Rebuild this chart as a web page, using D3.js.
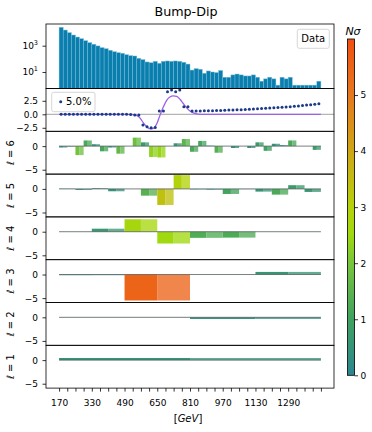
<!DOCTYPE html>
<html><head><meta charset="utf-8">
<script src="https://cdn.jsdelivr.net/npm/d3@7"></script>
<style>body{margin:0;background:#fff}svg{display:block}</style>
</head><body>
<svg id="chart" width="372" height="432"></svg>
<script>
// ---------------- data ----------------
const binStart = 170, binWidth = 20;
const counts = [25100,15500,9800,6500,4550,3400,2400,1700,1290,960,710,590,450,350,295,265,
  208,175,165,110,87,58,51,65,46,65,69,65,69,65,55,40,
  14,18,16,8,12,10,9,13,4,4,6,7,6,5,5,6,
  4,2,3,4,3,1,4,3,4,1,1,1,1,1,1,2];
const ratioPct = [0,0,0,0,0,0,0,0,0,0,0,0,0,0,0,0,
  0,-0.05,-0.15,-0.15,-2.0,-2.3,-2.5,-2.45,0.6,0.6,4.2,4.5,4.2,4.5,1.4,1.4,
  0.60,0.60,0.62,0.64,0.66,0.68,0.70,0.72,0.75,0.78,0.80,0.83,0.86,0.90,0.94,0.98,
  1.02,1.06,1.10,1.15,1.20,1.25,1.30,1.36,1.42,1.48,1.55,1.62,1.70,1.78,1.86,1.95];
const fitGeV = [170,500,533,549,566,582,598,615,631,647,663,680,696,712,728,745,761,777,794,810,826,843,859,1450];
const fitVal = [0,0,-0.06,-0.2,-0.7,-1.6,-2.3,-2.7,-2.6,-1.8,-0.2,1.4,2.6,3.2,3.4,3.3,2.8,2.0,1.2,0.6,0.25,0.06,0,0];
const level6 = [-0.3,-0.1,-1.9,1.2,0.4,-1.1,-0.3,-1.6,0.0,1.8,0.8,-2.3,-2.4,0.0,0.6,1.5,
  -1.2,1.1,0.1,-1.4,0.0,-0.4,0.0,-0.4,0.8,-1.0,0.5,0.2,1.2,0.0,0.0,-0.8];
const level5 = [0.05,-0.2,0.15,-0.5,0.0,-1.43,-3.4,2.93,-0.1,-0.15,-1.07,-0.05,-0.57,-1.21,0.79,-0.64];
const level4 = [0.0,0.64,2.64,-2.5,-1.3,-1.25,0.0,0.0];
const level3 = [-0.15,-5.5,0.0,0.55];
const level2 = [0.02,-0.35];
const level1 = [0.45];
const levelNames = ["6","5","4","3","2","1"];
const xTickLabels = ["170","330","490","650","810","970","1130","1290"];
const rTicks = [2.5, 0, -2.5];
const lTicks = [0, -5];
const logTicks = [3, 1];
const cbarTicks = [0,1,2,3,4,5];
const cmapStops = [0,1,2,2.5,3,4,5,6];
const cmapColors = ["#2b8690","#3fa25f","#78c53c","#a0d90f","#b5d20c","#cfa616","#e6781e","#f24f12"];

// ---------------- layout ----------------
const FONT = "DejaVu Sans, sans-serif";
const svg = d3.select("#chart").attr("font-family", FONT);
const L = 46, R = 334;
const topY0 = 24, topY1 = 88.5, rowH = 42.8;
const rowTop = k => topY1 + k * rowH;
const nBins = counts.length;
const dataEnd = binStart + nBins * binWidth;
const x = d3.scaleLinear().domain([106, 1514]).range([L, R]);
const cmap = d3.scaleLinear().domain(cmapStops).range(cmapColors).clamp(true);
const defs = svg.append("defs");
function clip(id, y0, y1) {
  defs.append("clipPath").attr("id", id).append("rect")
    .attr("x", L).attr("y", y0).attr("width", R - L).attr("height", y1 - y0);
  return `url(#${id})`;
}
function frame(y0, y1) {
  svg.append("rect").attr("x", L).attr("y", y0).attr("width", R - L).attr("height", y1 - y0)
    .attr("fill", "none").attr("stroke", "#000").attr("stroke-width", 0.8);
}
function yAxis(scale, vals, fmt) {
  const g = svg.append("g").attr("transform", `translate(${L},0)`)
    .call(d3.axisLeft(scale).tickValues(vals).tickFormat(fmt).tickSize(3.5).tickPadding(4.5));
  g.attr("font-family", FONT).attr("font-size", 9);
  g.select(".domain").remove();
  g.selectAll("line").attr("stroke", "#000").attr("stroke-width", 0.8);
  g.selectAll("text").attr("fill", "#000");
  return g;
}
const minus = v => String(v).replace("-", "\u2212");

// title
svg.append("text").attr("x", 186).attr("y", 15.5).attr("text-anchor", "middle")
  .attr("font-size", 12.7).text("Bump-Dip");

// ---------------- top histogram ----------------
const yLog = d3.scaleLog().domain([Math.pow(10, -0.255), Math.pow(10, 4.65)]).range([topY1, topY0]);
const gH = svg.append("g").attr("clip-path", clip("cTop", topY0, topY1));
gH.selectAll("rect").data(counts).join("rect")
  .attr("x", (d, i) => x(binStart + i * binWidth))
  .attr("width", (d, i) => x(binStart + (i + 1) * binWidth) - x(binStart + i * binWidth))
  .attr("y", d => yLog(d))
  .attr("height", d => topY1 - yLog(d))
  .attr("fill", "#0a7fae")
  .attr("stroke", "#7dbcdc").attr("stroke-width", 0.45);
frame(topY0, topY1);
const gTopAx = yAxis(yLog, logTicks.map(e => Math.pow(10, e)), () => "");
gTopAx.selectAll(".tick text").each(function (d) {
  const t = d3.select(this);
  t.append("tspan").text("10");
  t.append("tspan").attr("dy", -4).attr("font-size", 6.5).text(Math.round(Math.log10(d)));
});
// Data legend
svg.append("rect").attr("x", 297.3).attr("y", 29.3).attr("width", 32).attr("height", 19).attr("rx", 2)
  .attr("fill", "#fff").attr("stroke", "#ccc").attr("stroke-width", 0.8);
svg.append("text").attr("x", 313.3).attr("y", 42.3).attr("text-anchor", "middle").attr("font-size", 10).text("Data");

// ---------------- ratio panel ----------------
const r0 = rowTop(0), r1 = rowTop(1);
const yR = d3.scaleLinear().domain([-3.15, 4.78]).range([r1, r0]);
svg.append("line").attr("x1", L).attr("x2", R).attr("y1", yR(0)).attr("y2", yR(0))
  .attr("stroke", "#8a8a8a").attr("stroke-width", 0.8);
const gR = svg.append("g").attr("clip-path", clip("cR", r0, r1));
gR.append("path").datum(fitGeV.map((g, i) => [g, fitVal[i]]))
  .attr("d", d3.line().x(d => x(d[0])).y(d => yR(d[1])).curve(d3.curveMonotoneX))
  .attr("fill", "none").attr("stroke", "#9d60e6").attr("stroke-width", 1.3);
svg.append("g").selectAll("circle").data(ratioPct).join("circle")
  .attr("cx", (d, i) => x(binStart + (i + 0.5) * binWidth))
  .attr("cy", d => yR(d)).attr("r", 1.5).attr("fill", "#1b3a8a");
frame(r0, r1);
yAxis(yR, rTicks, d => minus(d3.format(".1f")(d)));
svg.append("rect").attr("x", 51.7).attr("y", 92.3).attr("width", 43.3).attr("height", 19.4).attr("rx", 2)
  .attr("fill", "#fff").attr("stroke", "#ccc").attr("stroke-width", 0.8);
svg.append("circle").attr("cx", 60.7).attr("cy", 101.8).attr("r", 1.5).attr("fill", "#1b3a8a");
svg.append("text").attr("x", 66).attr("y", 105.4).attr("font-size", 10).text("5.0%");

// ---------------- level panels ----------------
const levels = [level6, level5, level4, level3, level2, level1];
levels.forEach((vals, k) => {
  const y0 = rowTop(k + 1), y1 = rowTop(k + 2);
  const yS = d3.scaleLinear().domain([-5.93, 3.14]).range([y1, y0]);
  const g = svg.append("g").attr("clip-path", clip("cl" + k, y0, y1));
  const span = (dataEnd - binStart) / vals.length;
  const halves = [];
  vals.forEach((v, j) => {
    const a = binStart + j * span;
    halves.push({ a: a, b: a + span / 2, v: v, op: 1 });
    halves.push({ a: a + span / 2, b: a + span, v: v, op: 0.78 });
  });
  g.selectAll("rect").data(halves).join("rect")
    .attr("x", d => x(d.a)).attr("width", d => x(d.b) - x(d.a))
    .attr("y", d => Math.min(yS(d.v), yS(0)))
    .attr("height", d => Math.abs(yS(d.v) - yS(0)))
    .attr("fill", d => cmap(Math.abs(d.v))).attr("fill-opacity", d => d.op);
  g.append("line").attr("x1", x(binStart)).attr("x2", x(dataEnd)).attr("y1", yS(0)).attr("y2", yS(0))
    .attr("stroke", "#556060").attr("stroke-width", 0.8);
  frame(y0, y1);
  yAxis(yS, lTicks, d => minus(d));
  const cy = (y0 + y1) / 2;
  const t = svg.append("text").attr("transform", `translate(14,${cy}) rotate(-90)`)
    .attr("text-anchor", "middle").attr("font-size", 10);
  t.append("tspan").attr("font-style", "italic").text("\u2113");
  t.append("tspan").text(" = " + levelNames[k]);
});

// ---------------- bottom x axis ----------------
const yBottom = rowTop(7);
const gx = svg.append("g").attr("transform", `translate(0,${yBottom})`)
  .call(d3.axisBottom(x).tickValues(d3.range(binStart, dataEnd + 1, 2 * binWidth))
    .tickFormat(d => xTickLabels.includes(String(d)) ? String(d) : "").tickSize(3.5).tickPadding(8));
gx.attr("font-family", FONT).attr("font-size", 9);
gx.select(".domain").remove();
gx.selectAll("line").attr("stroke", "#000").attr("stroke-width", 0.8);
gx.selectAll("text").attr("fill", "#000");
const xl = svg.append("text").attr("x", 188).attr("y", 422).attr("text-anchor", "middle").attr("font-size", 10);
xl.append("tspan").text("[");
xl.append("tspan").attr("font-style", "italic").text("GeV");
xl.append("tspan").text("]");

// ---------------- colorbar ----------------
const cbX = 347.5, cbW = 7, cbTop = 39, cbBot = 375.3;
const yC = d3.scaleLinear().domain([0, 6]).range([cbBot, cbTop]);
const grad = defs.append("linearGradient").attr("id", "cbg").attr("x1", 0).attr("y1", 1).attr("x2", 0).attr("y2", 0);
d3.range(0, 6.01, 0.25).forEach(s => grad.append("stop").attr("offset", s / 6).attr("stop-color", cmap(s)));
svg.append("rect").attr("x", cbX).attr("y", cbTop).attr("width", cbW).attr("height", cbBot - cbTop)
  .attr("fill", "url(#cbg)").attr("stroke", "#000").attr("stroke-width", 0.8);
const gc = svg.append("g").attr("transform", `translate(${cbX + cbW},0)`)
  .call(d3.axisRight(yC).tickValues(cbarTicks).tickFormat(d3.format("d")).tickSize(3.5).tickPadding(2.5));
gc.attr("font-family", FONT).attr("font-size", 9);
gc.select(".domain").remove();
gc.selectAll("line").attr("stroke", "#000").attr("stroke-width", 0.8);
gc.selectAll("text").attr("fill", "#000");
svg.append("text").attr("x", 353).attr("y", 35).attr("text-anchor", "middle").attr("font-size", 11)
  .attr("font-style", "italic").text("N\u03c3");
</script>
</body></html>
